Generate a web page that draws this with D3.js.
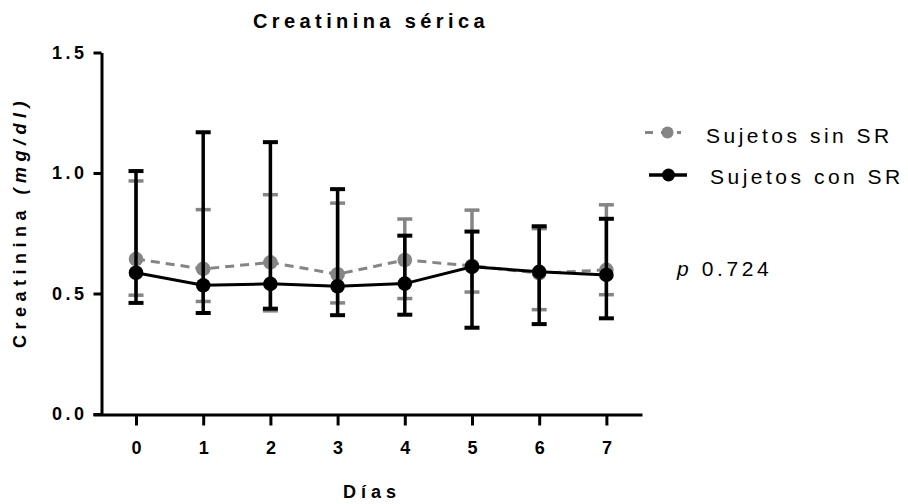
<!DOCTYPE html>
<html>
<head>
<meta charset="utf-8">
<script src="https://cdn.jsdelivr.net/npm/d3@7"></script>
<style>
  html, body { margin: 0; padding: 0; background: #fff; }
  svg { display: block; font-family: "Liberation Sans", Arial, sans-serif; }
</style>
</head>
<body>
<svg id="chart" width="908" height="504"></svg>
<script>
// Serum creatinine by day, two groups (mean with error range)
const days = [0, 1, 2, 3, 4, 5, 6, 7];
const yTicks = [0, 0.5, 1.0, 1.5];

const sinMean  = [0.643, 0.602, 0.629, 0.580, 0.639, 0.615, 0.584, 0.598];
const sinUpper = [0.967, 0.848, 0.910, 0.875, 0.809, 0.846, 0.769, 0.868];
const sinLower = [0.493, 0.467, 0.428, 0.461, 0.479, 0.506, 0.433, 0.495];

const conMean  = [0.586, 0.534, 0.540, 0.530, 0.541, 0.611, 0.590, 0.577];
const conUpper = [1.008, 1.169, 1.128, 0.933, 0.740, 0.757, 0.779, 0.810];
const conLower = [0.461, 0.419, 0.437, 0.410, 0.412, 0.358, 0.373, 0.397];

const seriesNames = ["Sujetos sin SR", "Sujetos con SR"];
const pLabel = "0.724";

const GRAY = "#858585";
const BLACK = "#000";
const FONT = "Liberation Sans, Arial, sans-serif";

const svg = d3.select("#chart");

const x = d3.scaleLinear().domain([-0.64, 7.53]).range([93, 642]);
const y = d3.scaleLinear().domain([0, 1.5]).range([414, 52.5]);

// Y axis
const yAxis = svg.append("g")
  .attr("transform", `translate(101.5,0)`)
  .call(d3.axisLeft(y).tickValues(yTicks).tickFormat(d3.format(".1f")).tickSize(8).tickSizeOuter(0));
yAxis.select(".domain").attr("stroke-width", 3);
yAxis.selectAll(".tick line").attr("stroke-width", 3);
yAxis.selectAll(".tick text")
  .attr("x", -14)
  .attr("font-size", 18).attr("font-weight", "bold")
  .attr("letter-spacing", 3.5)
  .attr("font-family", FONT)
  .attr("fill", "#000");

// X axis
const xAxis = svg.append("g")
  .attr("transform", `translate(0,414.5)`)
  .call(d3.axisBottom(x).tickValues(days).tickFormat(d3.format("d")).tickSize(11).tickSizeOuter(0));
xAxis.select(".domain").attr("stroke-width", 3);
xAxis.selectAll(".tick line").attr("stroke-width", 3);
xAxis.selectAll(".tick text")
  .attr("y", 27)
  .attr("font-size", 18).attr("font-weight", "bold")
  .attr("font-family", FONT)
  .attr("fill", "#000");

// Title and axis titles
svg.append("text")
  .attr("x", 371).attr("y", 28)
  .attr("text-anchor", "middle")
  .attr("font-size", 20).attr("font-weight", "bold")
  .attr("letter-spacing", 4.4)
  .text("Creatinina sérica");

svg.append("text")
  .attr("x", 372).attr("y", 498)
  .attr("text-anchor", "middle")
  .attr("font-size", 18).attr("font-weight", "bold")
  .attr("letter-spacing", 5)
  .text("Días");

const yTitle = svg.append("text")
  .attr("transform", "translate(26,222) rotate(-90)")
  .attr("text-anchor", "middle")
  .attr("font-size", 18).attr("font-weight", "bold")
  .attr("letter-spacing", 5.5);
yTitle.append("tspan").text("Creatinina ");
yTitle.append("tspan").attr("font-style", "italic").text("(mg/dl)");

// Draw one series: error bars, connecting line, points
function drawSeries(mean, lower, upper, color, opts) {
  const g = svg.append("g");
  const cap = 7.5;
  days.forEach((d, i) => {
    g.append("line")
      .attr("x1", x(d)).attr("x2", x(d))
      .attr("y1", y(upper[i])).attr("y2", y(lower[i]))
      .attr("stroke", color).attr("stroke-width", opts.barWidth);
    [upper[i], lower[i]].forEach(v => {
      g.append("line")
        .attr("x1", x(d) - cap).attr("x2", x(d) + cap)
        .attr("y1", y(v)).attr("y2", y(v))
        .attr("stroke", color).attr("stroke-width", opts.capWidth);
    });
  });
  const line = d3.line().x((d, i) => x(days[i])).y(d => y(d));
  g.append("path")
    .datum(mean)
    .attr("d", line)
    .attr("fill", "none")
    .attr("stroke", color)
    .attr("stroke-width", 3)
    .attr("stroke-dasharray", opts.dash || null);
  g.selectAll("circle")
    .data(mean)
    .join("circle")
    .attr("cx", (d, i) => x(days[i]))
    .attr("cy", d => y(d))
    .attr("r", 7.3)
    .attr("fill", color);
}

drawSeries(sinMean, sinLower, sinUpper, GRAY, { barWidth: 3.5, capWidth: 3.5, dash: "9,6" });
drawSeries(conMean, conLower, conUpper, BLACK, { barWidth: 3.5, capWidth: 4 });

// Legend
const legend = svg.append("g");
legend.append("line")
  .attr("x1", 645).attr("x2", 681).attr("y1", 132.5).attr("y2", 132.5)
  .attr("stroke", GRAY).attr("stroke-width", 3).attr("stroke-dasharray", "8,8");
legend.append("circle").attr("cx", 667.5).attr("cy", 132.5).attr("r", 6).attr("fill", GRAY);
legend.append("text")
  .attr("x", 706).attr("y", 143)
  .attr("font-size", 21).attr("letter-spacing", 3.5)
  .text(seriesNames[0]);

legend.append("line")
  .attr("x1", 649).attr("x2", 687).attr("y1", 175).attr("y2", 175)
  .attr("stroke", BLACK).attr("stroke-width", 3.5);
legend.append("circle").attr("cx", 668.5).attr("cy", 175).attr("r", 6.5).attr("fill", BLACK);
legend.append("text")
  .attr("x", 710).attr("y", 184)
  .attr("font-size", 21).attr("letter-spacing", 3.5)
  .text(seriesNames[1]);

// p-value annotation
const pText = svg.append("text")
  .attr("x", 677).attr("y", 276)
  .attr("font-size", 21).attr("letter-spacing", 3.6);
pText.append("tspan").attr("font-style", "italic").text("p");
pText.append("tspan").text(" " + pLabel);
</script>
</body>
</html>
